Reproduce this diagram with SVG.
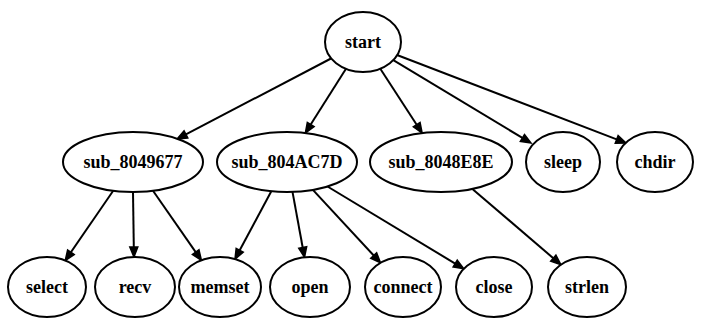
<svg xmlns="http://www.w3.org/2000/svg" width="701" height="320" viewBox="0 0 701 320">
<style>
.n ellipse{fill:#fff;stroke:#000;stroke-width:2}
.n text{font-family:'Liberation Serif','Times New Roman',Tinos,serif;font-weight:700;font-size:18px;text-anchor:middle;fill:#000}
#edges line{stroke:#000;stroke-width:2;marker-end:url(#ah)}
</style>
<defs>
<marker id="ah" markerUnits="userSpaceOnUse" markerWidth="13" markerHeight="11" refX="1" refY="5" orient="auto" overflow="visible">
<path d="M1,1 L11,5 L1,9 z" fill="#000" stroke="#000" stroke-width="1.5"/>
</marker>
</defs>
<rect width="701" height="320" fill="#fff"/>
<g id="edges">
<line x1="331" y1="58.5" x2="185.9" y2="134.4"/>
<line x1="346" y1="68.8" x2="310.7" y2="124.5"/>
<line x1="380.3" y1="68.7" x2="416.7" y2="124.7"/>
<line x1="393.3" y1="60.2" x2="522.4" y2="137.9"/>
<line x1="397" y1="55" x2="616.7" y2="139.4"/>
<line x1="113.2" y1="190.8" x2="70.9" y2="252.3"/>
<line x1="133" y1="192" x2="133.8" y2="247"/>
<line x1="153" y1="190.8" x2="195.7" y2="252.1"/>
<line x1="271.3" y1="191.2" x2="239.7" y2="250.3"/>
<line x1="292.5" y1="191.9" x2="302.7" y2="247.5"/>
<line x1="312.9" y1="189.9" x2="373.7" y2="255.5"/>
<line x1="327.5" y1="186.5" x2="455.2" y2="263.6"/>
<line x1="472.4" y1="188.9" x2="553.3" y2="258.2"/>
</g>
<g id="start" class="n"><ellipse cx="363" cy="42" rx="38" ry="30"/><text x="363" y="48" font-family="Liberation Serif">start</text></g>
<g id="sub_8049677" class="n"><ellipse cx="133" cy="162" rx="70" ry="30"/><text x="133" y="168">sub_8049677</text></g>
<g id="sub_804AC7D" class="n"><ellipse cx="287" cy="162" rx="70" ry="30"/><text x="287" y="168">sub_804AC7D</text></g>
<g id="sub_8048E8E" class="n"><ellipse cx="441" cy="162" rx="71" ry="30"/><text x="441" y="168">sub_8048E8E</text></g>
<g id="sleep" class="n"><ellipse cx="563" cy="162" rx="37" ry="30"/><text x="563" y="168">sleep</text></g>
<g id="chdir" class="n"><ellipse cx="655" cy="162" rx="38" ry="30"/><text x="655" y="168">chdir</text></g>
<g id="select" class="n"><ellipse cx="47" cy="287" rx="39" ry="30"/><text x="47" y="293">select</text></g>
<g id="recv" class="n"><ellipse cx="135" cy="287" rx="40" ry="30"/><text x="135" y="293">recv</text></g>
<g id="memset" class="n"><ellipse cx="220" cy="287" rx="41" ry="30"/><text x="220" y="293">memset</text></g>
<g id="open" class="n"><ellipse cx="310" cy="287" rx="40" ry="30"/><text x="310" y="293">open</text></g>
<g id="connect" class="n"><ellipse cx="403" cy="287" rx="38" ry="30"/><text x="403" y="293">connect</text></g>
<g id="close" class="n"><ellipse cx="494" cy="287" rx="38" ry="30"/><text x="494" y="293">close</text></g>
<g id="strlen" class="n"><ellipse cx="587" cy="287" rx="39" ry="30"/><text x="587" y="293">strlen</text></g>
</svg>
